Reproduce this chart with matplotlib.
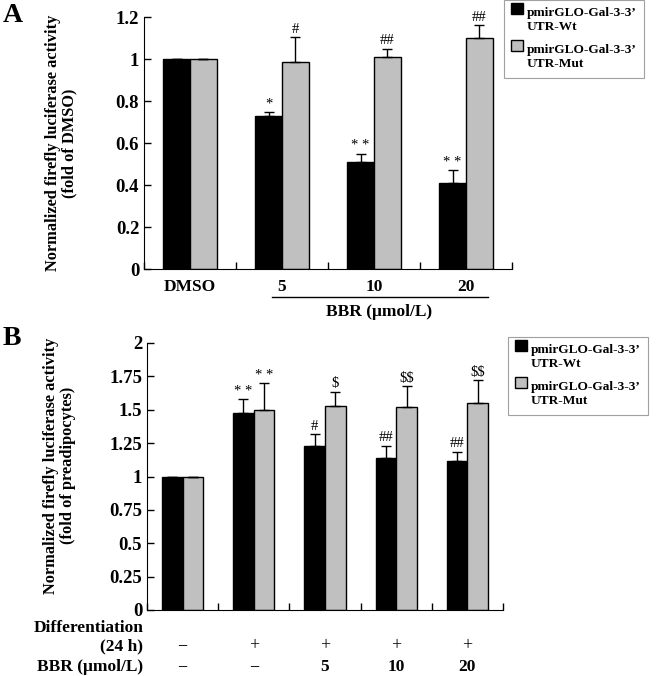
import numpy as np
import matplotlib
matplotlib.use("Agg")
import matplotlib.pyplot as plt
import matplotlib.transforms as mtransforms
from matplotlib.patches import Patch, Rectangle
from matplotlib.legend_handler import HandlerPatch

plt.rcParams["font.family"] = ["Liberation Serif", "DejaVu Serif"]
plt.rcParams["font.weight"] = "bold"
plt.rcParams["axes.labelweight"] = "bold"

# panel A
a_cats = ["DMSO", "5", "10", "20"]
a_wt = [1.0, 0.73, 0.51, 0.41]
a_wt_err = [0.0, 0.02, 0.04, 0.06]
a_mut = [1.0, 0.985, 1.01, 1.10]
a_mut_err = [0.0, 0.12, 0.04, 0.06]
a_wt_marks = ["", "*", "* *", "* *"]
a_mut_marks = ["", "#", "##", "##"]

# panel B
b_diff = ["\u2212", "+", "+", "+", "+"]
b_bbr = ["\u2212", "\u2212", "5", "10", "20"]
b_wt = [1.0, 1.475, 1.228, 1.135, 1.115]
b_wt_err = [0.0, 0.105, 0.09, 0.095, 0.07]
b_mut = [1.0, 1.50, 1.525, 1.52, 1.55]
b_mut_err = [0.0, 0.20, 0.11, 0.155, 0.17]
b_wt_marks = ["", "* *", "#", "##", "##"]
b_mut_marks = ["", "* *", "$", "$$", "$$"]

legend_labels = ["pmirGLO-Gal-3-3\u2019\nUTR-Wt", "pmirGLO-Gal-3-3\u2019\nUTR-Mut"]
GRAY = "#c0c0c0"
W = 0.29


def top_square(legend, orig_handle, xdescent, ydescent, width, height, fontsize):
    s = fontsize * 0.85
    return Rectangle((-xdescent, -ydescent + fontsize * 0.85), s, s)


def draw_bars(ax, wt, wt_err, mut, mut_err, wt_marks, mut_marks, pad):
    x = np.arange(len(wt))
    ekw = dict(ecolor="black", elinewidth=1.0, capsize=3.5, capthick=1.0)
    ax.bar(x - W / 2, wt, W, color="black", edgecolor="black", linewidth=1.0,
           yerr=[np.zeros(len(wt)), wt_err], error_kw=ekw, zorder=2)
    ax.bar(x + W / 2, mut, W, color=GRAY, edgecolor="black", linewidth=1.0,
           yerr=[np.zeros(len(mut)), mut_err], error_kw=ekw, zorder=2)
    for i in range(len(wt)):
        ax.text(x[i] - W / 2, wt[i] + wt_err[i] + pad, wt_marks[i], ha="center",
                va="bottom", fontsize=10.5, fontweight="normal", parse_math=False)
        ax.text(x[i] + W / 2, mut[i] + mut_err[i] + pad, mut_marks[i], ha="center",
                va="bottom", fontsize=10.5, fontweight="normal", parse_math=False)


def style_axes(ax, n):
    ax.spines["top"].set_visible(False)
    ax.spines["right"].set_visible(False)
    ax.set_xlim(-0.5, n - 0.5)
    ax.set_xticks(np.arange(n + 1) - 0.5)
    ax.set_xticklabels([])
    ax.tick_params(axis="both", direction="in", length=5, width=1.0)


def add_legend(fig, bbox):
    handles = [Patch(facecolor="black", edgecolor="black"),
               Patch(facecolor=GRAY, edgecolor="black")]
    leg = fig.legend(handles, legend_labels, loc="upper left", bbox_to_anchor=bbox,
                     borderaxespad=0, fontsize=9.6, frameon=True, fancybox=False,
                     edgecolor="#888888", handlelength=0.85, handleheight=0.85,
                     handletextpad=0.3, labelspacing=0.85, borderpad=0.55,
                     handler_map={Patch: HandlerPatch(patch_func=top_square)})
    leg.get_frame().set_linewidth(0.8)
    return leg


fig = plt.figure(figsize=(6.61, 6.76), dpi=100)

# ---- A ----
axA = fig.add_axes([144 / 661, 1 - 269 / 676, 368 / 661, 252 / 676])
draw_bars(axA, a_wt, a_wt_err, a_mut, a_mut_err, a_wt_marks, a_mut_marks, 0.005)
style_axes(axA, len(a_cats))
axA.set_ylim(0, 1.2)
axA.set_yticks(np.arange(0, 1.21, 0.2))
axA.set_yticklabels(["0", "0.2", "0.4", "0.6", "0.8", "1", "1.2"], fontsize=13.5)
axA.set_ylabel("Normalized firefly luciferase activity\n(fold of DMSO)", fontsize=11.8,
               linespacing=1.05)
axA.yaxis.set_label_coords(-0.18, 0.5)
trA = mtransforms.blended_transform_factory(axA.transData, axA.transAxes)
for i, c in enumerate(a_cats):
    axA.text(i, -0.07, c, transform=trA, ha="center", va="center", fontsize=12.5)
axA.plot([0.89, 3.24], [-0.111, -0.111], color="black", lw=1.0, transform=trA, clip_on=False)
axA.text(2.05, -0.17, "BBR (\u03bcmol/L)", transform=trA, ha="center", va="center",
         fontsize=12.5)
add_legend(fig, (504 / 661, 1.0))
fig.text(3 / 661, 1 - 16 / 676, "A", fontsize=20, va="center", ha="left")

# ---- B ----
axB = fig.add_axes([147 / 661, 1 - 610 / 676, 356 / 661, 267 / 676])
draw_bars(axB, b_wt, b_wt_err, b_mut, b_mut_err, b_wt_marks, b_mut_marks, 0.01)
style_axes(axB, len(b_diff))
axB.set_ylim(0, 2)
axB.set_yticks(np.arange(0, 2.01, 0.25))
axB.set_yticklabels(["0", "0.25", "0.5", "0.75", "1", "1.25", "1.5", "1.75", "2"],
                    fontsize=13.5)
axB.set_ylabel("Normalized firefly luciferase activity\n(fold of preadipocytes)",
               fontsize=11.8, linespacing=1.05)
axB.yaxis.set_label_coords(-0.2, 0.54)
trB = mtransforms.blended_transform_factory(axB.transData, axB.transAxes)
for i in range(len(b_diff)):
    axB.text(i, -0.135, b_diff[i], transform=trB, ha="center", va="center",
             fontsize=13, fontweight="normal")
    axB.text(i, -0.212, b_bbr[i], transform=trB, ha="center", va="center",
             fontsize=13 if b_bbr[i] == "\u2212" else 12.5,
             fontweight="bold" if b_bbr[i] != "\u2212" else "normal")
axB.text(-0.011, -0.066, "Differentiation", transform=axB.transAxes, ha="right",
         va="center", fontsize=12.5)
axB.text(-0.011, -0.135, "(24 h)", transform=axB.transAxes, ha="right",
         va="center", fontsize=12.5)
axB.text(-0.011, -0.212, "BBR (\u03bcmol/L)", transform=axB.transAxes, ha="right",
         va="center", fontsize=12.5)
add_legend(fig, (508 / 661, 1 - 337 / 676))
fig.text(3 / 661, 1 - 339 / 676, "B", fontsize=20, va="center", ha="left")

fig.savefig("out.png", dpi=100)
